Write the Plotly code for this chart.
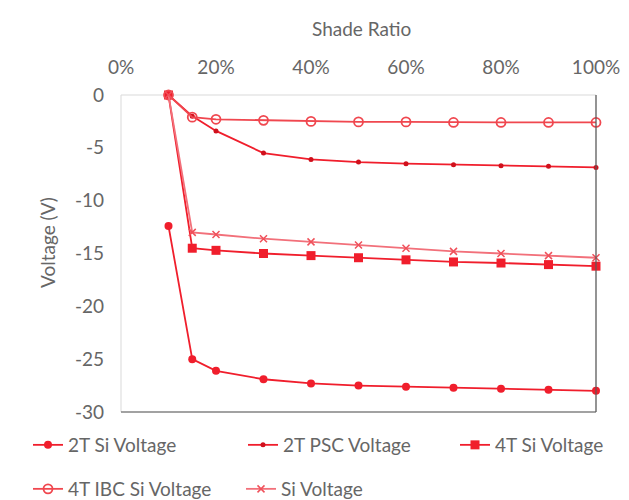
import plotly.graph_objects as go

shade = [0.10, 0.15, 0.20, 0.30, 0.40, 0.50, 0.60, 0.70, 0.80, 0.90, 1.00]
v_2t_si = [-12.4, -25.0, -26.1, -26.9, -27.3, -27.5, -27.6, -27.7, -27.8, -27.9, -28.0]
v_2t_psc = [0.0, -2.0, -3.4, -5.5, -6.1, -6.35, -6.5, -6.6, -6.7, -6.75, -6.85]
v_4t_si = [0.0, -14.5, -14.7, -15.0, -15.2, -15.4, -15.6, -15.8, -15.9, -16.05, -16.2]
v_4t_ibc = [0.0, -2.1, -2.3, -2.4, -2.5, -2.55, -2.55, -2.6, -2.6, -2.6, -2.6]
v_si = [0.0, -13.0, -13.2, -13.6, -13.9, -14.2, -14.5, -14.8, -15.0, -15.2, -15.4]

x_ticks = [0, 0.2, 0.4, 0.6, 0.8, 1.0]
y_ticks = [0, -5, -10, -15, -20, -25, -30]
y_ticktext = ["0", "-5", "-10", "-15", "-20", "-25", "-30"]
x_title = "Shade Ratio"
y_title = "Voltage (V)"

RED = "#F01E2C"
FONT = "Lato"
FS = 19
GRAY = "#666666"

fig = go.Figure()
fig.add_trace(go.Scatter(x=shade, y=v_2t_si, name="2T Si Voltage", mode="lines+markers",
                         line=dict(color=RED, width=1.8),
                         marker=dict(symbol="circle", size=8, color=RED),
                         cliponaxis=False, legend="legend"))
fig.add_trace(go.Scatter(x=shade, y=v_2t_psc, name="2T PSC Voltage", mode="lines+markers",
                         line=dict(color=RED, width=1.8),
                         marker=dict(symbol="circle", size=5, color="#D0101C"),
                         cliponaxis=False, legend="legend2"))
fig.add_trace(go.Scatter(x=shade, y=v_4t_si, name="4T Si Voltage", mode="lines+markers",
                         line=dict(color=RED, width=1.8),
                         marker=dict(symbol="square", size=9, color=RED),
                         cliponaxis=False, legend="legend3"))
fig.add_trace(go.Scatter(x=shade, y=v_4t_ibc, name="4T IBC Si Voltage", mode="lines+markers",
                         line=dict(color="#F0474F", width=1.8),
                         marker=dict(symbol="circle-open", size=9, color="#F0474F", line=dict(width=1.8)),
                         cliponaxis=False, legend="legend4"))
fig.add_trace(go.Scatter(x=shade, y=v_si, name="Si Voltage", mode="lines+markers",
                         line=dict(color="#F2707A", width=1.8),
                         marker=dict(symbol="x-thin-open", size=7, color="#F0505A", line=dict(width=1.5)),
                         cliponaxis=False, legend="legend5"))

lg = dict(orientation="h", xref="container", yref="container",
          xanchor="left", yanchor="middle",
          font=dict(family=FONT, size=FS, color=GRAY), itemwidth=30,
          bgcolor="rgba(0,0,0,0)")

fig.update_layout(
    width=629, height=500,
    margin=dict(l=121, r=33, t=95, b=88, autoexpand=False),
    paper_bgcolor="white", plot_bgcolor="white",
    font=dict(family=FONT, size=FS, color=GRAY),
    showlegend=True,
    xaxis=dict(range=[0, 1], side="top", tickvals=x_ticks, tickformat=".0%",
               showgrid=False, zeroline=False, showline=False,
               ticklabelstandoff=16),
    yaxis=dict(range=[-30, 0], tickvals=y_ticks, ticktext=y_ticktext,
               showgrid=False, zeroline=False, showline=False,
               ticklabelstandoff=16),
    legend=dict(lg, x=28 / 629, y=1 - 445 / 500),
    legend2=dict(lg, x=243 / 629, y=1 - 445 / 500),
    legend3=dict(lg, x=455 / 629, y=1 - 445 / 500),
    legend4=dict(lg, x=28 / 629, y=1 - 489 / 500),
    legend5=dict(lg, x=241 / 629, y=1 - 489 / 500),
    annotations=[
        dict(text=x_title, xref="paper", yref="paper", x=0.507, y=1.211,
             showarrow=False, xanchor="center", yanchor="middle",
             font=dict(family=FONT, size=FS, color=GRAY)),
        dict(text=y_title, xref="paper", yref="paper", x=-0.156, y=0.536,
             showarrow=False, xanchor="center", yanchor="middle", textangle=-90,
             font=dict(family=FONT, size=FS, color=GRAY)),
    ],
    shapes=[
        dict(type="rect", xref="paper", yref="paper", x0=0, x1=1, y0=0, y1=1,
             line=dict(color="#D9D9D9", width=1), layer="below"),
        dict(type="line", xref="paper", yref="paper", x0=0, x1=1, y0=0, y1=0,
             line=dict(color="#595959", width=1.2)),
        dict(type="line", xref="paper", yref="paper", x0=1, x1=1, y0=0, y1=1,
             line=dict(color="#595959", width=1.2)),
    ],
)

fig.write_html("out.html")
